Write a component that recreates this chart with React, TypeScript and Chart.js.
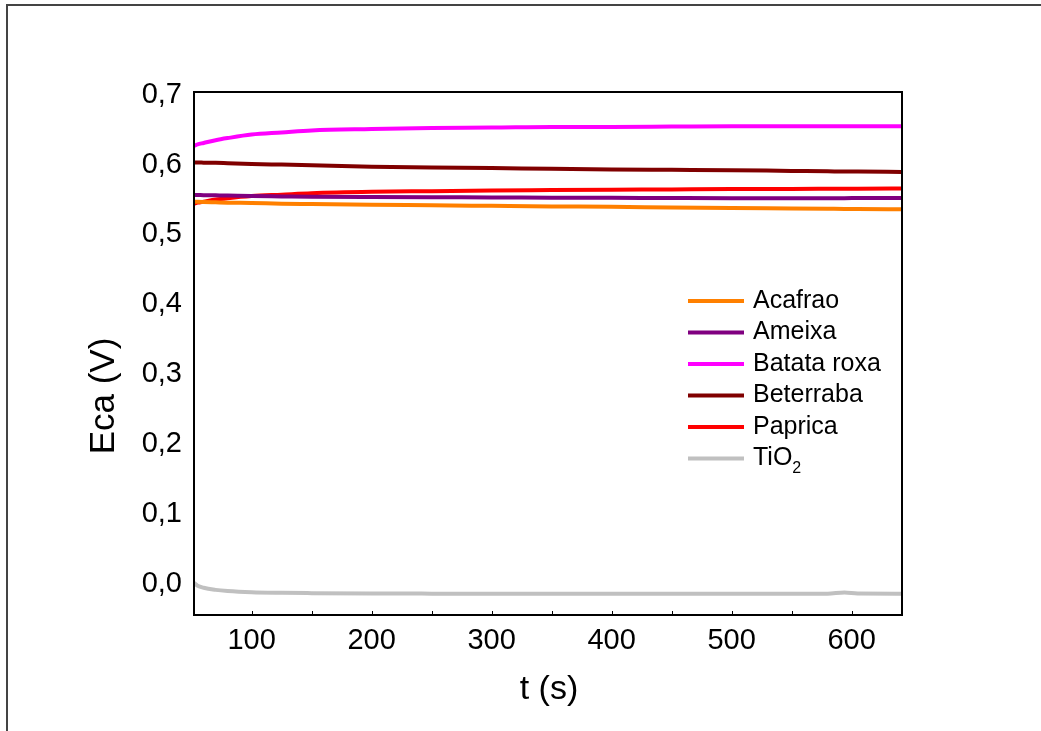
import React, { useEffect, useRef } from "react";
import { Chart, registerables } from "chart.js";

Chart.register(...registerables);

const times = [52, 55, 60, 70, 80, 100, 125, 150, 200, 250, 300, 350, 400, 450, 500, 550, 580, 594, 605, 642];
const acafrao = [0.547, 0.5468, 0.5465, 0.546, 0.5455, 0.545, 0.544, 0.5435, 0.5425, 0.5418, 0.541, 0.5402, 0.5395, 0.5386, 0.5378, 0.5372, 0.5368, 0.5366, 0.5364, 0.536];
const ameixa = [0.5566, 0.5565, 0.5563, 0.556, 0.5557, 0.555, 0.5545, 0.554, 0.5535, 0.5532, 0.553, 0.5527, 0.5525, 0.5522, 0.552, 0.552, 0.552, 0.552, 0.5521, 0.5523];
const batataRoxa = [0.627, 0.629, 0.631, 0.635, 0.638, 0.643, 0.646, 0.649, 0.651, 0.6525, 0.653, 0.654, 0.654, 0.6545, 0.655, 0.655, 0.655, 0.655, 0.655, 0.655];
const beterraba = [0.603, 0.603, 0.6028, 0.6025, 0.602, 0.601, 0.6, 0.599, 0.597, 0.596, 0.595, 0.594, 0.593, 0.5925, 0.592, 0.591, 0.5905, 0.59, 0.59, 0.5895];
const paprica = [0.544, 0.5455, 0.547, 0.55, 0.552, 0.555, 0.557, 0.559, 0.561, 0.562, 0.563, 0.5635, 0.564, 0.5645, 0.565, 0.5652, 0.5654, 0.5655, 0.5656, 0.5658];
const tio2 = [0.001, -0.003, -0.006, -0.009, -0.0107, -0.0125, -0.0133, -0.0137, -0.0142, -0.0144, -0.0145, -0.0145, -0.0145, -0.0145, -0.0145, -0.0145, -0.0144, -0.0128, -0.0142, -0.0145];

const seriesNames = ["Acafrao", "Ameixa", "Batata roxa", "Beterraba", "Paprica", "TiO2"];
const seriesColors = ["#FF8000", "#800080", "#FF00FF", "#800000", "#FF0000", "#C0C0C0"];
const seriesValues = [acafrao, ameixa, batataRoxa, beterraba, paprica, tio2];

const xTickValues = [100, 200, 300, 400, 500, 600];
const xMinorTicks = [100, 150, 200, 250, 300, 350, 400, 450, 500, 550, 600];
const yTickValues = [0, 0.1, 0.2, 0.3, 0.4, 0.5, 0.6, 0.7];

const xTitle = "t (s)";
const yTitle = "Eca (V)";
const FONT = "'Liberation Sans', Arial, sans-serif";

const decorPlugin = {
  id: "decor",
  afterDraw(chart: any) {
    const ctx = chart.ctx;
    const area = chart.chartArea;
    const xs = chart.scales.x;
    ctx.save();
    // outer frame
    ctx.strokeStyle = "#444";
    ctx.lineWidth = 2;
    ctx.beginPath();
    ctx.moveTo(7, 740);
    ctx.lineTo(7, 5);
    ctx.lineTo(1050, 5);
    ctx.stroke();
    // plot frame
    ctx.strokeStyle = "#000";
    ctx.lineWidth = 2;
    ctx.strokeRect(area.left, area.top, area.right - area.left, area.bottom - area.top);
    // minor ticks
    ctx.lineWidth = 1;
    ctx.beginPath();
    xMinorTicks.forEach((v) => {
      const px = Math.round(xs.getPixelForValue(v)) + 0.5;
      ctx.moveTo(px, area.bottom);
      ctx.lineTo(px, area.bottom - 4);
    });
    ctx.stroke();
    // axis titles
    ctx.fillStyle = "#000";
    ctx.font = `34px ${FONT}`;
    ctx.textAlign = "center";
    ctx.textBaseline = "middle";
    ctx.fillText(xTitle, 549, 690);
    ctx.save();
    ctx.translate(104, 396);
    ctx.rotate(-Math.PI / 2);
    ctx.font = `35px ${FONT}`;
    ctx.fillText(yTitle, 0, 0);
    ctx.restore();
    // legend
    const lx0 = 688;
    const lx1 = 744;
    const tx = 753;
    const y0 = 301;
    const dy = 31.5;
    seriesNames.forEach((name, i) => {
      const y = y0 + i * dy;
      ctx.strokeStyle = seriesColors[i];
      ctx.lineWidth = 4;
      ctx.beginPath();
      ctx.moveTo(lx0, y);
      ctx.lineTo(lx1, y);
      ctx.stroke();
      ctx.fillStyle = "#000";
      ctx.textAlign = "left";
      ctx.textBaseline = "middle";
      ctx.font = `25px ${FONT}`;
      if (name === "TiO2") {
        ctx.fillText("TiO", tx, y);
        const w = ctx.measureText("TiO").width;
        ctx.font = `16px ${FONT}`;
        ctx.fillText("2", tx + w, y + 10);
      } else {
        ctx.fillText(name, tx, y);
      }
    });
    ctx.restore();
  },
};

export default function App() {
  const ref = useRef<HTMLCanvasElement | null>(null);
  useEffect(() => {
    if (!ref.current) return;
    const chart = new Chart(ref.current, {
      type: "line",
      data: {
        datasets: seriesNames.map((name, i) => ({
          label: name,
          data: times.map((t, j) => ({ x: t, y: seriesValues[i][j] })),
          borderColor: seriesColors[i],
          backgroundColor: seriesColors[i],
          borderWidth: 4,
          pointRadius: 0,
          cubicInterpolationMode: "monotone" as const,
          fill: false,
        })),
      },
      options: {
        responsive: false,
        animation: false,
        events: [],
        layout: { padding: { left: 0, top: 92, right: 139, bottom: 0 } },
        plugins: { legend: { display: false }, tooltip: { enabled: false }, title: { display: false } },
        scales: {
          x: {
            type: "linear",
            min: 52,
            max: 642,
            afterBuildTicks: (s: any) => {
              s.ticks = xTickValues.map((v) => ({ value: v }));
            },
            afterFit: (s: any) => {
              s.height = 116;
            },
            grid: { display: false, drawTicks: false },
            border: { display: false },
            ticks: {
              color: "#000",
              padding: 9,
              maxRotation: 0,
              autoSkip: false,
              font: { family: FONT, size: 29 },
              callback: (v: any) => String(v),
            },
          },
          y: {
            type: "linear",
            min: -0.045,
            max: 0.704,
            afterBuildTicks: (s: any) => {
              s.ticks = yTickValues.map((v) => ({ value: v }));
            },
            afterFit: (s: any) => {
              s.width = 194;
            },
            grid: { display: false, drawTicks: false },
            border: { display: false },
            ticks: {
              color: "#000",
              padding: 12,
              autoSkip: false,
              font: { family: FONT, size: 29 },
              callback: (v: any) => Number(v).toFixed(1).replace(".", ","),
            },
          },
        },
      },
      plugins: [decorPlugin],
    });
    return () => chart.destroy();
  }, []);
  return (
    <div style={{ position: "absolute", left: 0, top: 0, width: 1041, height: 731, overflow: "hidden", background: "#fff" }}>
      <canvas ref={ref} width={1041} height={731} style={{ display: "block" }} />
    </div>
  );
}
